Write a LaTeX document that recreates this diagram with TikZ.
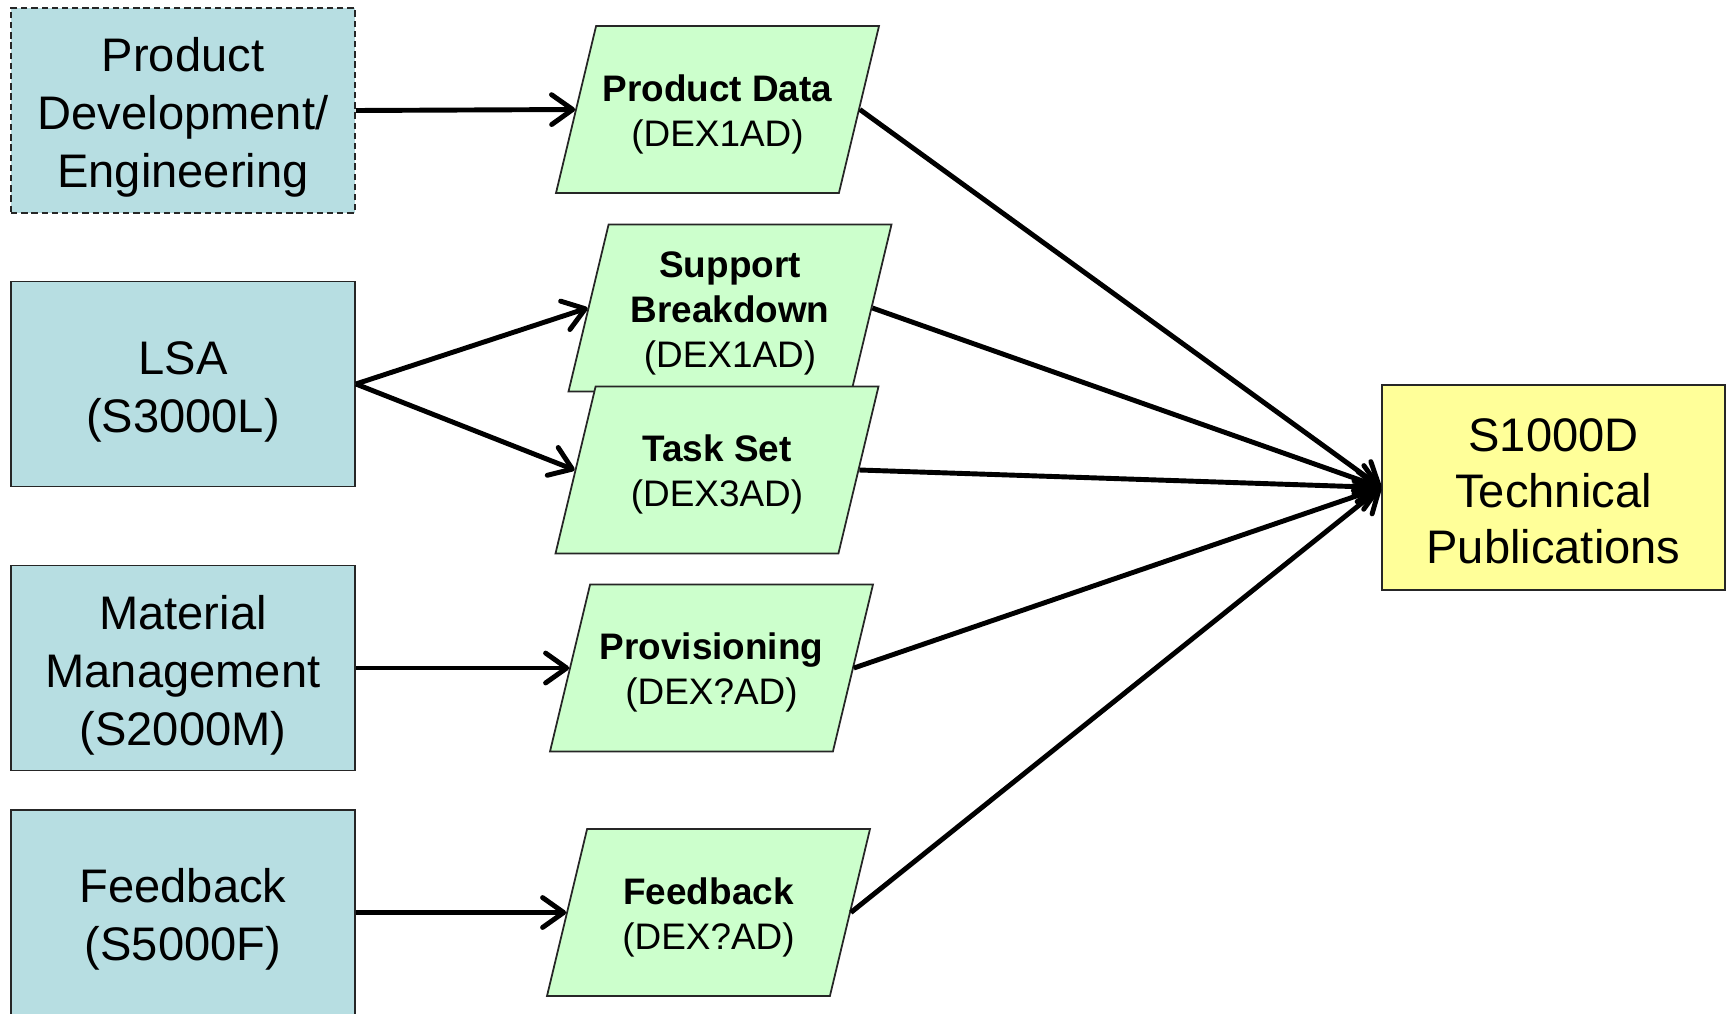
\documentclass[tikz,border=0pt]{standalone}
\usepackage{fontspec}
\setmainfont{Liberation Sans}
\usetikzlibrary{arrows.meta}
\usetikzlibrary{shapes.geometric}

\definecolor{specblue}{RGB}{183,222,226}
\definecolor{dexgreen}{RGB}{204,255,204}
\definecolor{pubyellow}{RGB}{255,255,153}

% fixed-height text block, so every exchange gets the same slant
\newcommand{\dextext}[2]{\parbox[c][1.57cm][c]{2.4cm}{\centering\rule{0pt}{10.3pt}\textbf{#1}\\#2}}
% invisible strut: puts the first line a bit lower, as in the slides
\newcommand{\boxstrut}[1]{\rule{0pt}{#1}}

\begin{document}
\begin{tikzpicture}[
		specnode/.style={
		% The shape:
		rectangle,
		% The size:
		minimum width=3.44cm,
		minimum height=2.05cm,
		% The border:
		draw=black!85,
		line width=0.5pt,
		% The filling:
		fill=specblue,
		% Font
		align=center,
		font=\fontsize{13.4}{16.5}\selectfont
		},
		dexnode/.style={
		% The shape:
		trapezium,
		trapezium left angle=76.5,
		trapezium right angle=103.5,
		trapezium stretches body,
		% The size:
		minimum width=3.23cm,
		minimum height=1.67cm,
		inner xsep=0pt,
		inner ysep=0.05cm,
		% The border:
		draw=black!85,
		line width=0.5pt,
		% The filling:
		fill=dexgreen,
		% Font
		font=\fontsize{10.5}{12.8}\selectfont
		},
		pubnode/.style={
		% The shape:
		rectangle,
		% The size:
		minimum width=3.43cm,
		minimum height=2.05cm,
		% The border:
		draw=black!85,
		line width=0.5pt,
		% The filling:
		fill=pubyellow,
		% Font
		align=center,
		font=\fontsize{13.4}{16}\selectfont
		},
		flow/.style={-{Straight Barb[length=6pt,width=8.5pt,round]}, line width=1.4pt}
	]
	\useasboundingbox (0,0) rectangle (17.29,-10.13);

	% source specifications
	\node (prod)[specnode, dashed, dash pattern=on 1.8pt off 1.1pt] at (1.83,-1.105) {\boxstrut{13.7pt}Product\\Development/\\Engineering};
	\node (lsa)[specnode] at (1.83,-3.84) {\boxstrut{13.7pt}LSA\\(S3000L)};
	\node (matl)[specnode] at (1.83,-6.68) {\boxstrut{13.7pt}Material\\Management\\(S2000M)};
	\node (fback)[specnode] at (1.83,-9.125) {\boxstrut{13.7pt}Feedback\\(S5000F)};

	% data exchanges
	\node (pdata)[dexnode] at (7.175,-1.095) {\dextext{Product Data}{(DEX1AD)}};
	\node (suppbd)[dexnode] at (7.30,-3.08) {\dextext{Support\\Breakdown}{(DEX1AD)}};
	\node (taskset)[dexnode] at (7.17,-4.70) {\dextext{Task Set}{(DEX3AD)}};
	\node (prov)[dexnode] at (7.115,-6.68) {\dextext{Provisioning}{(DEX?AD)}};
	\node (fbdata)[dexnode] at (7.085,-9.125) {\dextext{Feedback}{(DEX?AD)}};

	\node (pubs)[pubnode] at (15.535,-4.875) {\boxstrut{11.4pt}S1000D\\Technical\\Publications};

	\draw [flow] (prod.east) -- (pdata.left side);
	\draw [flow] (lsa.east) -- (suppbd.left side);
	\draw [flow] (lsa.east) -- (taskset.left side);
	\draw [flow] (matl.east) -- (prov.left side);
	\draw [flow] (fback.east) -- (fbdata.left side);

	\draw [flow] (pdata.right side) -- (pubs.west);
	\draw [flow] (suppbd.right side) -- (pubs.west);
	\draw [flow] (taskset.right side) -- (pubs.west);
	\draw [flow] (prov.right side) -- (pubs.west);
	\draw [flow] (fbdata.right side) -- (pubs.west);
\end{tikzpicture}
\end{document}
